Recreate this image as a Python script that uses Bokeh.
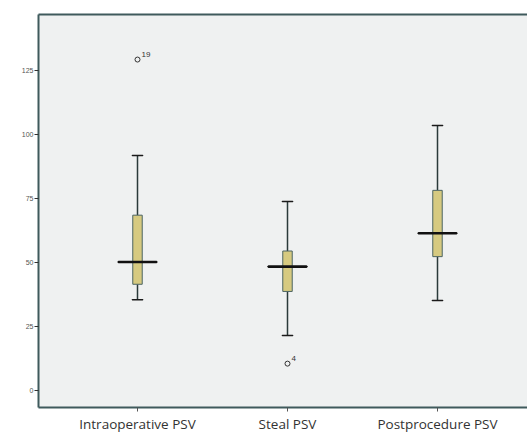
from bokeh.plotting import figure
from bokeh.models import LinearAxis, FixedTicker, Range1d, ColumnDataSource
from bokeh.core.properties import value
from bokeh.embed import file_html
from bokeh.resources import INLINE

categories = ["Intraoperative PSV", "Steal PSV", "Postprocedure PSV"]
positions = [1, 2, 3]
q1 = [41.5, 38.7, 52.3]
q3 = [68.5, 54.5, 78.2]
median = [50.2, 48.4, 61.4]
lower = [35.5, 21.5, 35.2]
upper = [91.8, 73.8, 103.5]
outlier_pos = [1, 2]
outlier_val = [129.3, 10.5]
outlier_lbl = ["19", "4"]
y_ticks = [0, 25, 50, 75, 100, 125]

frame_col = "#3f5a5c"
bg_col = "#eff1f1"
box_fill = "#d6ca80"
box_line = "#4c6462"

p = figure(width=527, height=435, output_backend="svg", toolbar_location=None,
           x_range=Range1d(0.34, 3.6), y_range=Range1d(-6.64, 146.9),
           min_border_left=38, min_border_top=14, min_border_right=0,
           min_border_bottom=28, background_fill_color=bg_col,
           border_fill_color="white", outline_line_color=None)
p.xgrid.visible = False
p.ygrid.visible = False

src = ColumnDataSource(dict(x=positions, q1=q1, q3=q3, med=median, lo=lower, hi=upper))

# whiskers
p.segment(x0="x", x1="x", y0="lo", y1="q1", source=src, line_color="#2a3a3a", line_width=1.5)
p.segment(x0="x", x1="x", y0="q3", y1="hi", source=src, line_color="#2a3a3a", line_width=1.5)
p.rect(x="x", y="lo", width=0.07, height=0.01, source=src, line_color="#1a1a1a", line_width=1.5, fill_color=None)
p.rect(x="x", y="hi", width=0.07, height=0.01, source=src, line_color="#1a1a1a", line_width=1.5, fill_color=None)
# boxes
p.vbar(x="x", width=0.063, bottom="q1", top="q3", source=src, fill_color=box_fill,
       line_color=box_line, line_width=1)
# medians
p.rect(x="x", y="med", width=0.255, height=0.01, source=src, line_color="#111111",
       line_width=2.5, fill_color=None)

# outliers
osrc = ColumnDataSource(dict(x=outlier_pos, y=outlier_val, t=outlier_lbl))
p.scatter(x="x", y="y", source=osrc, marker="circle", size=5, fill_color=bg_col,
          line_color="#333333", line_width=1)
p.text(x="x", y="y", text="t", source=osrc, x_offset=4, y_offset=-3,
       text_font=value("Liberation Sans"), text_font_size="8px", text_color="#333333",
       text_baseline="bottom")

# axes
for ax in p.yaxis:
    ax.ticker = FixedTicker(ticks=y_ticks)
    ax.axis_line_color = frame_col
    ax.axis_line_width = 2
    ax.major_tick_line_color = "#333333"
    ax.major_tick_out = 4
    ax.major_tick_in = 0
    ax.minor_tick_line_color = None
    ax.major_label_text_font = "Liberation Sans"
    ax.major_label_text_font_size = "7px"
    ax.major_label_text_color = "#555555"
    ax.major_label_standoff = 1

for ax in p.xaxis:
    ax.ticker = FixedTicker(ticks=positions)
    ax.major_label_overrides = {pos: c for pos, c in zip(positions, categories)}
    ax.axis_line_color = frame_col
    ax.axis_line_width = 2
    ax.major_tick_line_color = "#555555"
    ax.major_tick_out = 4
    ax.major_tick_in = 0
    ax.minor_tick_line_color = None
    ax.major_label_text_font = "Open Sans"
    ax.major_label_text_font_size = "13.5px"
    ax.major_label_text_color = "#333333"
    ax.major_label_standoff = 3

top = LinearAxis(ticker=FixedTicker(ticks=[]), axis_line_color=frame_col, axis_line_width=2,
                 major_label_text_font_size="0px", major_tick_line_color=None,
                 minor_tick_line_color=None)
p.add_layout(top, "above")

open("out.html", "w").write(file_html(p, INLINE))
